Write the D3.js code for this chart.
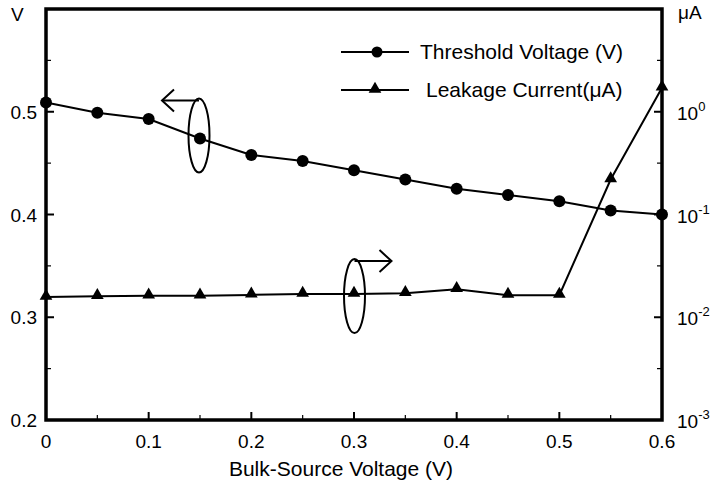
<!DOCTYPE html>
<html>
<head>
<meta charset="utf-8">
<script src="https://cdn.jsdelivr.net/npm/d3@7"></script>
<style>
  html, body { margin: 0; padding: 0; background: #fff; }
  svg { display: block; font-family: "Liberation Sans", Arial, sans-serif; }
</style>
</head>
<body>
<svg id="chart" width="711" height="486"></svg>
<script>
// Bulk-source bias sweep
const vbs = [0, 0.05, 0.1, 0.15, 0.2, 0.25, 0.3, 0.35, 0.4, 0.45, 0.5, 0.55, 0.6];
const thresholdV = [0.509, 0.499, 0.493, 0.474, 0.458, 0.452, 0.443, 0.434, 0.425, 0.419, 0.413, 0.404, 0.400];
const leakageUA = [0.0157, 0.0160, 0.0162, 0.0162, 0.0165, 0.0168, 0.0168, 0.0171, 0.0187, 0.0164, 0.0164, 0.219, 1.71];

const xTicks = [0, 0.1, 0.2, 0.3, 0.4, 0.5, 0.6];
const xMinor = [0.05, 0.15, 0.25, 0.35, 0.45, 0.55];
const yLeftTicks = [0.2, 0.3, 0.4, 0.5];
const yLeftMinor = [0.25, 0.35, 0.45, 0.55];
const yRightExp = [-3, -2, -1, 0];
const yRightMinor = [-2.5, -1.5, -0.5, 0.5];

const svg = d3.select("#chart");
const m = { left: 46, right: 662, top: 9, bottom: 420 };

const x = d3.scaleLinear().domain([0, 0.6]).range([m.left, m.right]);
const yL = d3.scaleLinear().domain([0.2, 0.6]).range([m.bottom, m.top]);
const yR = d3.scaleLog().domain([1e-3, 1e1]).range([m.bottom, m.top]);

const ink = "#000";

// Inward ticks
const tick = (g, x1, y1, x2, y2, w) =>
  g.append("line").attr("x1", x1).attr("y1", y1).attr("x2", x2).attr("y2", y2)
    .attr("stroke", ink).attr("stroke-width", w);

const ticks = svg.append("g");
xTicks.forEach(v => tick(ticks, x(v), m.bottom, x(v), m.bottom - 8, 2));
xMinor.forEach(v => tick(ticks, x(v), m.bottom, x(v), m.bottom - 5, 1.2));
yLeftTicks.forEach(v => tick(ticks, m.left, yL(v), m.left + 8, yL(v), 2));
yLeftMinor.forEach(v => tick(ticks, m.left, yL(v), m.left + 5, yL(v), 1.2));
yRightExp.forEach(e => tick(ticks, m.right, yR(Math.pow(10, e)), m.right - 8, yR(Math.pow(10, e)), 2));
yRightMinor.forEach(e => tick(ticks, m.right, yR(Math.pow(10, e)), m.right - 5, yR(Math.pow(10, e)), 1.2));

// Frame
svg.append("rect").attr("x", m.left).attr("y", m.top)
  .attr("width", m.right - m.left).attr("height", m.bottom - m.top)
  .attr("fill", "none").attr("stroke", ink).attr("stroke-width", 3.5);

// Tick labels
const fs = 19;
const xl = svg.append("g").attr("font-size", fs).attr("text-anchor", "middle");
xTicks.forEach(v => xl.append("text").attr("x", x(v)).attr("y", 448).text(v === 0 ? "0" : d3.format(".1f")(v)));

const yl = svg.append("g").attr("font-size", fs).attr("text-anchor", "end");
yLeftTicks.forEach(v => yl.append("text").attr("x", 37).attr("y", yL(v) + 7).text(d3.format(".1f")(v)));

const yr = svg.append("g").attr("font-size", fs);
yRightExp.forEach(e => {
  const t = yr.append("text").attr("x", 677).attr("y", yR(Math.pow(10, e)) + 8);
  t.append("tspan").text("10");
  t.append("tspan").attr("font-size", 13).attr("dy", -9).text(String(e));
});

// Units and axis title
svg.append("text").attr("x", 11).attr("y", 21).attr("font-size", fs).text("V");
svg.append("text").attr("x", 678).attr("y", 19).attr("font-size", fs).text("μA");
svg.append("text").attr("x", 341).attr("y", 476).attr("font-size", 21)
  .attr("text-anchor", "middle").text("Bulk-Source Voltage (V)");

// Series
const lineV = d3.line().x((d, i) => x(vbs[i])).y(d => yL(d));
const lineI = d3.line().x((d, i) => x(vbs[i])).y(d => yR(d));

svg.append("path").attr("d", lineV(thresholdV)).attr("fill", "none")
  .attr("stroke", ink).attr("stroke-width", 2);
svg.append("path").attr("d", lineI(leakageUA)).attr("fill", "none")
  .attr("stroke", ink).attr("stroke-width", 2);

svg.append("g").selectAll("circle").data(thresholdV).join("circle")
  .attr("cx", (d, i) => x(vbs[i])).attr("cy", d => yL(d)).attr("r", 6).attr("fill", ink);

const tri = d3.symbol().type(d3.symbolTriangle).size(70);
svg.append("g").selectAll("path").data(leakageUA).join("path")
  .attr("d", tri).attr("fill", ink)
  .attr("transform", (d, i) => `translate(${x(vbs[i])},${yR(d) - 1})`);

// Axis-ownership markers: ellipse + arrow
function ownership(cx, cy, dir) {
  const g = svg.append("g").attr("fill", "none").attr("stroke", ink).attr("stroke-width", 2);
  const rx = 10.5, ry = 37;
  g.append("ellipse").attr("cx", cx).attr("cy", cy).attr("rx", rx).attr("ry", ry);
  const top = cy - ry + 2;
  const tip = cx + dir * 37;
  g.append("line").attr("x1", cx).attr("y1", top).attr("x2", tip).attr("y2", top);
  g.append("polyline")
    .attr("points", `${tip - dir * 12},${top - 11} ${tip},${top} ${tip - dir * 12},${top + 11}`);
}
ownership(x(0.15) - 1, yL(thresholdV[3]) - 3, -1);
ownership(x(0.3) + 0.5, yR(leakageUA[6]) + 2, 1);

// Legend
const lg = svg.append("g");
const legendRows = [
  { y: 52, label: "Threshold Voltage (V)", tx: 420, mark: "circle" },
  { y: 90, label: "Leakage Current(μA)", tx: 426, mark: "tri" }
];
legendRows.forEach(r => {
  lg.append("line").attr("x1", 341).attr("x2", 409).attr("y1", r.y).attr("y2", r.y)
    .attr("stroke", ink).attr("stroke-width", 2);
  if (r.mark === "circle") {
    lg.append("circle").attr("cx", 377).attr("cy", r.y).attr("r", 5.5).attr("fill", ink);
  } else {
    lg.append("path").attr("d", tri).attr("fill", ink).attr("transform", `translate(375,${r.y - 1})`);
  }
  lg.append("text").attr("x", r.tx).attr("y", r.y + 7).attr("font-size", 21).text(r.label);
});
</script>
</body>
</html>
